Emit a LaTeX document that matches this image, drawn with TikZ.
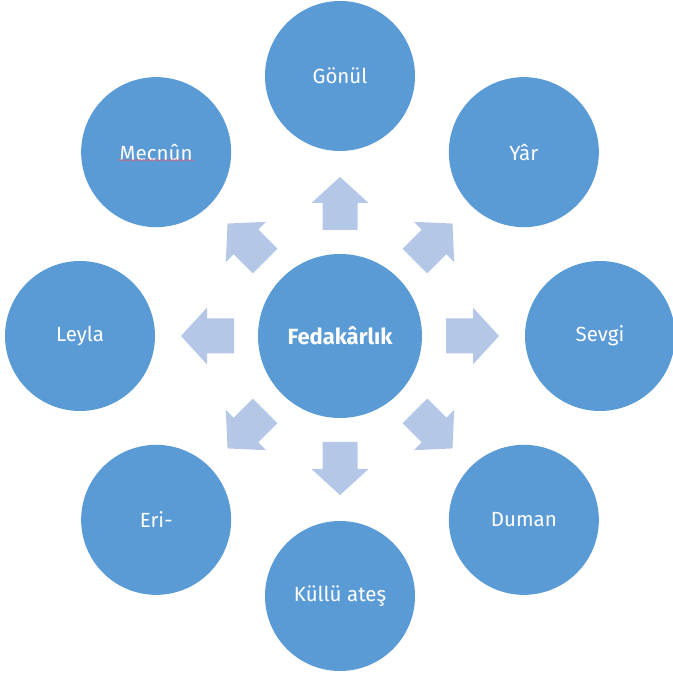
\documentclass[tikz,border=0pt]{standalone}
\usepackage{fontspec}
\setmainfont{Fira Sans}
\usetikzlibrary{calc,decorations.pathmorphing}
\definecolor{circ}{HTML}{5B9BD5}
\definecolor{arr}{HTML}{B4C7E7}
\definecolor{spell}{HTML}{D0607A}
\begin{document}
\begin{tikzpicture}[x=1pt,y=1pt,
  bubble/.style={circle, fill=circ, draw=none, text=white, font=\fontsize{20.5}{24}\selectfont, minimum size=150pt, inner sep=0pt},
  hub/.style={bubble, minimum size=164pt, font=\bfseries\fontsize{22}{26}\selectfont},
  blockarrow/.style={fill=arr, draw=none},
  spellmark/.style={draw=spell, line width=0.6pt, decorate, decoration={snake, amplitude=0.6pt, segment length=3pt}}]
\useasboundingbox (0,0) rectangle (672,674);
\node[hub] (c) at (340,338) {Fedakârlık};
\foreach \nm/\ang/\txt in {g/90/Gönül, y/45/Yâr, s/0/Sevgi, d/-45/Duman, k/-90/Küllü ateş, e/-135/Eri-, l/180/Leyla, m/135/Mecnûn}{
  \node[bubble] (\nm) at ($(c.center)+(\ang:260)$) {\txt};
}
\foreach \a in {0,45,...,315}{
  \fill[blockarrow, shift={(c.center)}, rotate=\a] (106,-17.5) -- (133,-17.5) -- (133,-28.5) -- (159,0) -- (133,28.5) -- (133,17.5) -- (106,17.5) -- cycle;
}
\draw[spellmark] ($(m.center)+(-38,-8)$) -- ($(m.center)+(38,-8)$);
\end{tikzpicture}
\end{document}
